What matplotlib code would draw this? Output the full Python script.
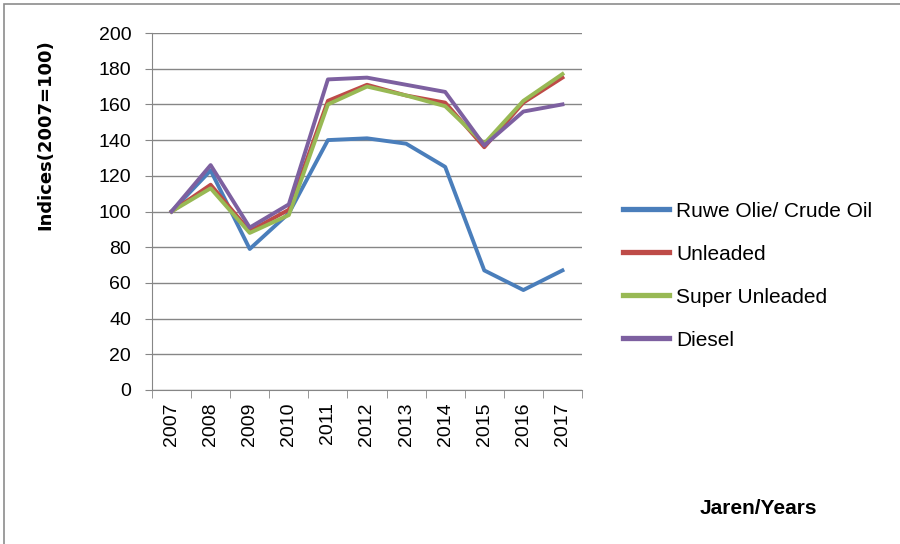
import matplotlib.pyplot as plt
from matplotlib.patches import Rectangle

# data
years = ['2007', '2008', '2009', '2010', '2011', '2012', '2013', '2014', '2015', '2016', '2017']
crude = [100, 123, 79, 99, 140, 141, 138, 125, 67, 56, 67]
unleaded = [100, 115, 89, 101, 162, 171, 165, 161, 136, 161, 175]
super_unleaded = [100, 113, 88, 98, 160, 170, 165, 159, 138, 162, 177]
diesel = [100, 126, 91, 104, 174, 175, 171, 167, 137, 156, 160]

names = ['Ruwe Olie/ Crude Oil', 'Unleaded', 'Super Unleaded', 'Diesel']
colors = ['#4A7EBB', '#BE4B48', '#98B954', '#7D60A0']

plt.rcParams['font.family'] = ['Liberation Sans', 'DejaVu Sans']

fig = plt.figure(figsize=(9, 5.44), dpi=100)
fig.patches.append(Rectangle((4 / 900, -0.1), 1.2, 1 - 4 / 544 + 0.1, transform=fig.transFigure,
                             fill=False, edgecolor='#8c8c8c', linewidth=1.2))

ax = fig.add_axes([152 / 900, 1 - 390 / 544, 430 / 900, 357 / 544])
x = range(len(years))
for vals, name, c in zip([crude, unleaded, super_unleaded, diesel], names, colors):
    ax.plot(x, vals, color=c, linewidth=2.8, label=name, solid_joinstyle='round')

ax.set_ylim(0, 200)
ax.set_yticks(range(0, 201, 20))
ax.set_xlim(-0.5, len(years) - 0.5)
ax.set_xticks(x)
ax.set_xticklabels(years, rotation=90, fontsize=14)
ax.set_xticks([i - 0.5 for i in range(len(years) + 1)], minor=True)
ax.tick_params(axis='x', which='major', length=0, pad=9)
ax.tick_params(axis='x', which='minor', length=6, color='#868686', direction='out')
ax.tick_params(axis='y', length=5, color='#868686', labelsize=14, pad=10)
ax.grid(axis='y', color='#868686', linewidth=1)
ax.set_axisbelow(True)
for s in ['top', 'right']:
    ax.spines[s].set_visible(False)
for s in ['left', 'bottom']:
    ax.spines[s].set_color('#868686')

fig.text(45 / 900, 1 - 135 / 544, 'Indices(2007=100)', rotation=90, ha='center', va='center',
         fontsize=13, fontweight='bold', family='DejaVu Sans')
fig.text(758 / 900, 1 - 508 / 544, 'Jaren/Years', ha='center', va='center',
         fontsize=15, fontweight='bold')

fig.legend(loc='upper left', bbox_to_anchor=(604 / 900, 1 - 183 / 544), frameon=False,
           fontsize=15, handlelength=2.2, labelspacing=1.15, handletextpad=0.35)
for line in fig.legends[0].get_lines():
    line.set_linewidth(3.8)

plt.savefig('out.png', dpi=100)
